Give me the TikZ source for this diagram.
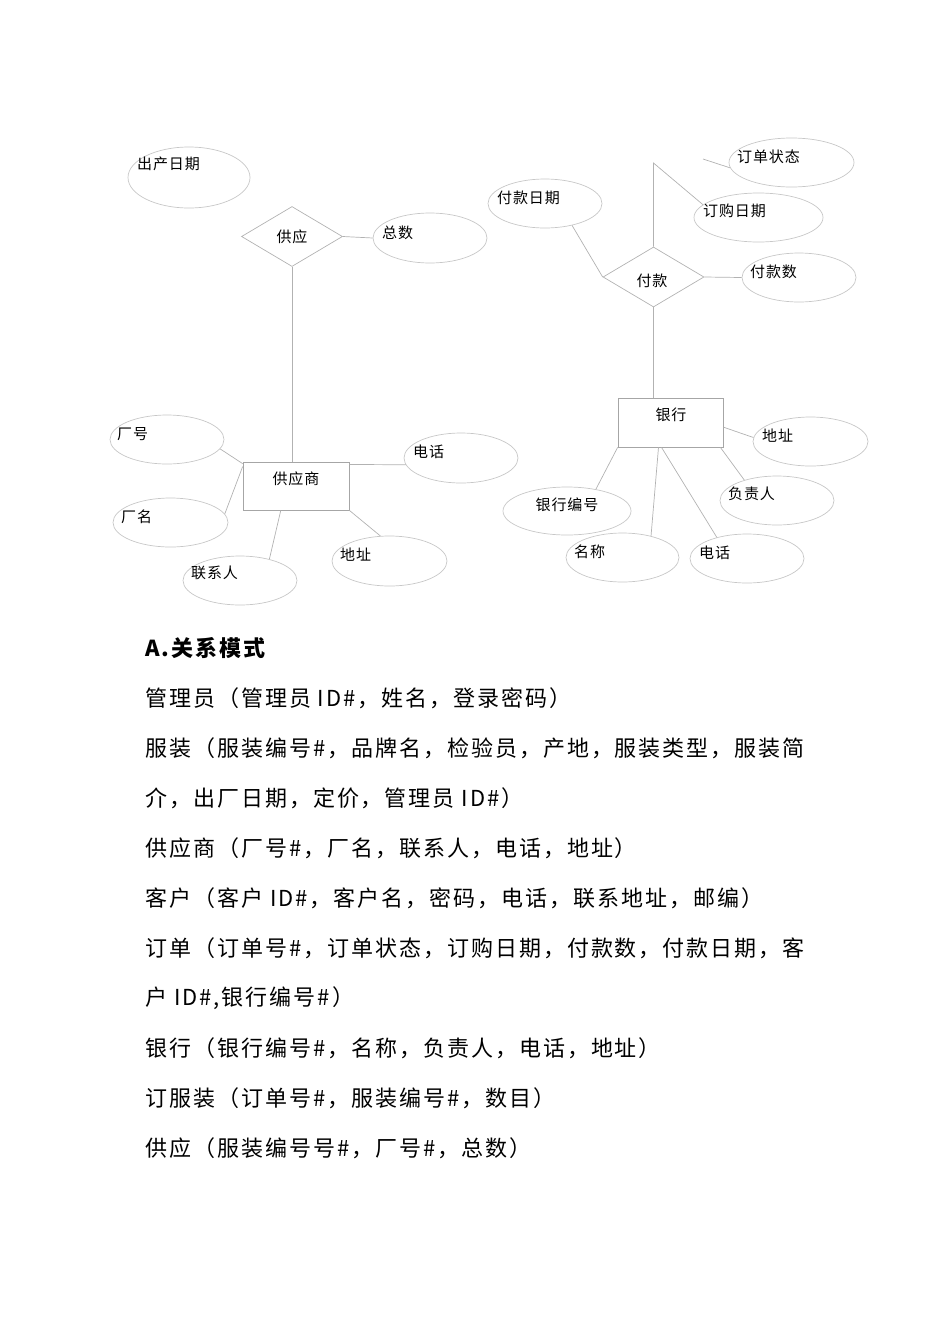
\documentclass[tikz,border=0pt]{standalone}
\usepackage{fontspec}
\newfontfamily\dfont[LetterSpace=6]{Noto Sans CJK SC}
\newfontfamily\bodyfont[LetterSpace=9]{Noto Sans CJK SC}
\usetikzlibrary{shapes.geometric,calc}
\tikzset{
  attr/.style={ellipse, draw=black!22, line width=0.7pt, inner sep=0pt},
  ent/.style={rectangle, draw=black!35, line width=0.7pt, inner sep=0pt},
  rel/.style={diamond, draw=black!30, line width=0.7pt, inner sep=0pt, minimum width=101pt, minimum height=60pt, font=\dfont\fontsize{15pt}{18pt}\selectfont},
  lbl/.style={anchor=west, inner sep=0pt, font=\dfont\fontsize{15pt}{18pt}\selectfont},
  ctr/.style={inner sep=0pt, font=\dfont\fontsize{15pt}{18pt}\selectfont},
  conn/.style={draw=black!30, line width=0.7pt},
  body/.style={anchor=west, inner sep=0pt, font=\bodyfont\fontsize{22pt}{26pt}\selectfont}
}
\begin{document}
\begin{tikzpicture}[x=1pt,y=-1pt]
\useasboundingbox (0,0) rectangle (950,1344);
% left part
\node[attr, minimum width=122pt, minimum height=61pt] (ccrq) at (189,177.5) {};
\node[lbl] (ccrqt) at (137,164) {出产日期};
\node[rel] (gy) at (292,236.5) {供应};
\node[attr, minimum width=114pt, minimum height=50pt] (zs) at (430,238) {};
\node[lbl] (zst) at (382,233) {总数};
\node[ent, minimum width=106pt, minimum height=48pt] (gys) at (296,486) {};
\node[ctr] (gyst) at (296,479) {供应商};
\node[attr, minimum width=114pt, minimum height=49pt] (ch) at (167,439.5) {};
\node[lbl] (cht) at (117,434) {厂号};
\node[attr, minimum width=115pt, minimum height=49pt] (cm) at (170.5,522.5) {};
\node[lbl] (cmt) at (121,517) {厂名};
\node[attr, minimum width=114pt, minimum height=49pt] (lxr) at (240,580.5) {};
\node[lbl] (lxrt) at (191,573) {联系人};
\node[attr, minimum width=115pt, minimum height=50pt] (dz) at (389.5,561) {};
\node[lbl] (dzt) at (340,555) {地址};
\node[attr, minimum width=114pt, minimum height=50pt] (dh) at (461,458) {};
\node[lbl] (dht) at (413,452) {电话};
% right part
\node[attr, minimum width=125pt, minimum height=49pt] (ddzt) at (791.5,162.5) {};
\node[lbl] (ddztt) at (737,157) {订单状态};
\node[attr, minimum width=129pt, minimum height=49pt] (dgrq) at (758.5,217.5) {};
\node[lbl] (dgrqt) at (703,211) {订购日期};
\node[attr, minimum width=114pt, minimum height=49pt] (fkrq) at (545,203.5) {};
\node[lbl] (fkrqt) at (497,198) {付款日期};
\node[rel] (fk) at (653.5,277) {};
\node[ctr] (fkt) at (652,281) {付款};
\node[attr, minimum width=114pt, minimum height=49pt] (fks) at (799,277.5) {};
\node[lbl] (fkst) at (750,272) {付款数};
\node[ent, minimum width=105pt, minimum height=49pt] (yh) at (670.5,422.5) {};
\node[ctr] (yht) at (671,415) {银行};
\node[attr, minimum width=115pt, minimum height=49pt] (yhdz) at (810.5,441.5) {};
\node[lbl] (yhdzt) at (762,436) {地址};
\node[attr, minimum width=114pt, minimum height=49pt] (fzr) at (777,500.5) {};
\node[lbl] (fzrt) at (728,494) {负责人};
\node[attr, minimum width=128pt, minimum height=48pt] (yhbh) at (567,511) {};
\node[ctr] (yhbht) at (567,505) {银行编号};
\node[attr, minimum width=113pt, minimum height=49pt] (mc) at (622.5,557.5) {};
\node[lbl] (mct) at (574,552) {名称};
\node[attr, minimum width=114pt, minimum height=49pt] (yhdh) at (747,558.5) {};
\node[lbl] (yhdht) at (699,553) {电话};
% connectors
\draw[conn] (gy.east) -- (zs.west);
\draw[conn] (gy.south) -- (gy.south |- gys.north);
\draw[conn] (ch.-10) -- ($(gys.north west)+(0,2)$);
\draw[conn] (cm.9) -- (gys.160);
\draw[conn] (lxr.36) -- (gys.-122);
\draw[conn] (gys.south east) -- (dz.110);
\draw[conn] (gys.22) -- (dh.187);
\coordinate (ddzfree) at (703,159);
\draw[conn] (ddzfree) -- (ddzt.185);
\coordinate (bend) at (653.5,163);
\draw[conn] (fk.north) -- (bend) -- (dgrq.167);
\draw[conn] (fkrq.-39) -- (fk.west);
\draw[conn] (fk.east) -- (fks.west);
\draw[conn] (fk.south) -- (fk.south |- yh.north);
\draw[conn] (yh.-5) -- (yhdz.176);
\draw[conn] ($(yh.south east)+(-3,0)$) -- (fzr.148);
\draw[conn] (yh.south west) -- (yhbh.37);
\draw[conn] ($(yh.south)+(-12,0)$) -- (mc.37);
\draw[conn] ($(yh.south)+(-9,0)$) -- (yhdh.145);
% relational schema text
\node[body] (r0) at (145,648) {\bfseries A.关系模式};
\node[body] (r1) at (145,698) {管理员（管理员 ID\#，姓名，登录密码）};
\node[body] (r2) at (145,748) {服装（服装编号\#，品牌名，检验员，产地，服装类型，服装简};
\node[body] (r3) at (145,798) {介，出厂日期，定价，管理员 ID\#）};
\node[body] (r4) at (145,848) {供应商（厂号\#，厂名，联系人，电话，地址）};
\node[body] (r5) at (145,898) {客户（客户 ID\#，客户名，密码，电话，联系地址，邮编）};
\node[body] (r6) at (145,948) {订单（订单号\#，订单状态，订购日期，付款数，付款日期，客};
\node[body] (r7) at (145,998) {户 ID\#,银行编号\#）};
\node[body] (r8) at (145,1048) {银行（银行编号\#，名称，负责人，电话，地址）};
\node[body] (r9) at (145,1098) {订服装（订单号\#，服装编号\#，数目）};
\node[body] (r10) at (145,1148) {供应（服装编号号\#，厂号\#，总数）};
\end{tikzpicture}
\end{document}
